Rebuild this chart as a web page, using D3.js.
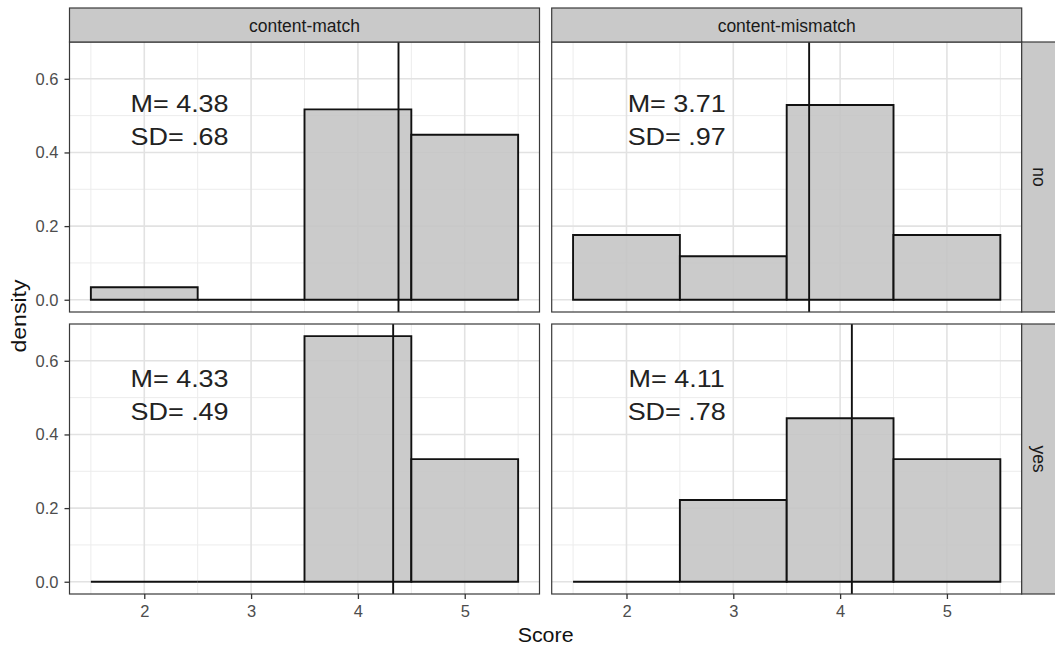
<!DOCTYPE html>
<html>
<head>
<meta charset="utf-8">
<script src="https://cdn.jsdelivr.net/npm/d3@7"></script>
<style>
  body { margin: 0; background: #fff; }
  text { font-family: "Liberation Sans", Arial, sans-serif; }
</style>
</head>
<body>
<div id="chart"></div>
<script>
// Data
const scores = [2, 3, 4, 5];
const columns = ["content-match", "content-mismatch"];
const rows = ["no", "yes"];
const densMatchNo = [0.034, 0, 0.517, 0.448];
const densMismatchNo = [0.176, 0.118, 0.529, 0.176];
const densMatchYes = [0, 0, 0.667, 0.333];
const densMismatchYes = [0, 0.222, 0.444, 0.333];
const means = [4.38, 3.71, 4.33, 4.11];
const sdLabels = [".68", ".97", ".49", ".78"];
const labelX = [2.33, 2.47, 2.33, 2.47];
const labelY = [0.51, 0.51, 0.528, 0.528];
const xTicks = [2, 3, 4, 5];
const xMinor = [1.5, 2.5, 3.5, 4.5, 5.5];
const yTicks = [0, 0.2, 0.4, 0.6];
const yMinor = [0.1, 0.3, 0.5];

// panels in order: row, col
const panels = [
    { row: 0, col: 0, dens: densMatchNo },
    { row: 0, col: 1, dens: densMismatchNo },
    { row: 1, col: 0, dens: densMatchYes },
    { row: 1, col: 1, dens: densMismatchYes },
];

// Layout
const width = 1055;
const height = 647;
const panelW = 470;
const panelH = 270;
const colX = [69.5, 551.7];
const rowY = [42, 324];
const stripH = 34;
const stripW = 34;
const stretch = 1.1; // reference glyphs run a bit wide

const svg = d3.select("#chart")
    .append("svg")
    .attr("width", width)
    .attr("height", height);

const x = d3.scaleLinear().domain([1.3, 5.7]).range([0, panelW]);
const y = d3.scaleLinear().domain([-0.0333, 0.7]).range([panelH, 0]);

panels.forEach((p, i) => {
    const g = svg.append("g")
        .attr("transform", `translate(${colX[p.col]},${rowY[p.row]})`);

    g.append("rect")
        .attr("width", panelW)
        .attr("height", panelH)
        .attr("fill", "#fff");

    // grid
    g.selectAll(".xminor").data(xMinor).join("line")
        .attr("x1", d => x(d)).attr("x2", d => x(d))
        .attr("y1", 0).attr("y2", panelH)
        .attr("stroke", "#ececec").attr("stroke-width", 1);
    g.selectAll(".yminor").data(yMinor).join("line")
        .attr("y1", d => y(d)).attr("y2", d => y(d))
        .attr("x1", 0).attr("x2", panelW)
        .attr("stroke", "#ececec").attr("stroke-width", 1);
    g.selectAll(".xmajor").data(xTicks).join("line")
        .attr("x1", d => x(d)).attr("x2", d => x(d))
        .attr("y1", 0).attr("y2", panelH)
        .attr("stroke", "#e2e2e2").attr("stroke-width", 1.6);
    g.selectAll(".ymajor").data(yTicks).join("line")
        .attr("y1", d => y(d)).attr("y2", d => y(d))
        .attr("x1", 0).attr("x2", panelW)
        .attr("stroke", "#e2e2e2").attr("stroke-width", 1.6);

    // bars (paths so zero-height bins still show their outline)
    g.selectAll(".bar").data(scores).join("path")
        .attr("d", (s, j) => {
            const x0 = x(s - 0.5), x1 = x(s + 0.5);
            const y0 = y(0), y1 = y(p.dens[j]);
            return `M${x0},${y0}V${y1}H${x1}V${y0}Z`;
        })
        .attr("fill", "#c4c4c4")
        .attr("fill-opacity", 0.88)
        .attr("stroke", "#111")
        .attr("stroke-width", 1.9);

    // mean line
    g.append("line")
        .attr("x1", x(means[i])).attr("x2", x(means[i]))
        .attr("y1", 0).attr("y2", panelH)
        .attr("stroke", "#111").attr("stroke-width", 1.9);

    // label
    const t = g.append("text")
        .attr("transform", `translate(${x(labelX[i])},${y(labelY[i])}) scale(${stretch},1)`)
        .attr("text-anchor", "middle")
        .attr("font-size", 24.5)
        .attr("fill", "#222");
    t.append("tspan").attr("x", 0).text(`M= ${means[i].toFixed(2)}`);
    t.append("tspan").attr("x", 0).attr("dy", 33).text(`SD= ${sdLabels[i]}`);

    // border
    g.append("rect")
        .attr("width", panelW)
        .attr("height", panelH)
        .attr("fill", "none")
        .attr("stroke", "#3a3a3a")
        .attr("stroke-width", 1.2);

    // y axis on left column
    if (p.col === 0) {
        const ya = g.append("g")
            .call(d3.axisLeft(y).tickValues(yTicks).tickFormat(d3.format(".1f")).tickSize(5).tickPadding(6));
        ya.select(".domain").remove();
        ya.selectAll("line").attr("stroke", "#333").attr("stroke-width", 1.3);
        ya.selectAll("text").attr("font-size", 16.5).attr("fill", "#4d4d4d")
            .attr("font-family", "Liberation Sans, Arial, sans-serif");
    }
    // x axis on bottom row
    if (p.row === 1) {
        const xa = g.append("g")
            .attr("transform", `translate(0,${panelH})`)
            .call(d3.axisBottom(x).tickValues(xTicks).tickFormat(d3.format("d")).tickSize(5).tickPadding(6));
        xa.select(".domain").remove();
        xa.selectAll("line").attr("stroke", "#333").attr("stroke-width", 1.3);
        xa.selectAll("text").attr("font-size", 16.5).attr("fill", "#4d4d4d")
            .attr("font-family", "Liberation Sans, Arial, sans-serif");
    }
});

// top strips
columns.forEach((c, j) => {
    svg.append("rect")
        .attr("x", colX[j]).attr("y", rowY[0] - stripH)
        .attr("width", panelW).attr("height", stripH)
        .attr("fill", "#c9c9c9")
        .attr("stroke", "#3a3a3a").attr("stroke-width", 1.2);
    svg.append("text")
        .attr("x", colX[j] + panelW / 2)
        .attr("y", rowY[0] - stripH / 2)
        .attr("dy", "0.38em")
        .attr("text-anchor", "middle")
        .attr("font-size", 17.5)
        .attr("fill", "#1a1a1a")
        .text(c);
});

// right strips
rows.forEach((r, k) => {
    const sx = colX[1] + panelW;
    svg.append("rect")
        .attr("x", sx).attr("y", rowY[k])
        .attr("width", stripW).attr("height", panelH)
        .attr("fill", "#c9c9c9")
        .attr("stroke", "#3a3a3a").attr("stroke-width", 1.2);
    svg.append("text")
        .attr("transform", `translate(${sx + stripW / 2},${rowY[k] + panelH / 2}) rotate(90)`)
        .attr("dy", "0.35em")
        .attr("text-anchor", "middle")
        .attr("font-size", 17.5)
        .attr("fill", "#1a1a1a")
        .text(r);
});

// axis titles
svg.append("text")
    .attr("transform", `translate(${(colX[0] + colX[1] + panelW) / 2},642) scale(1.07,1)`)
    .attr("text-anchor", "middle")
    .attr("font-size", 20)
    .attr("fill", "#111")
    .text("Score");

svg.append("text")
    .attr("transform", `translate(25.5,316) rotate(-90) scale(1.1,1)`)
    .attr("text-anchor", "middle")
    .attr("font-size", 21)
    .attr("fill", "#111")
    .text("density");
</script>
</body>
</html>
